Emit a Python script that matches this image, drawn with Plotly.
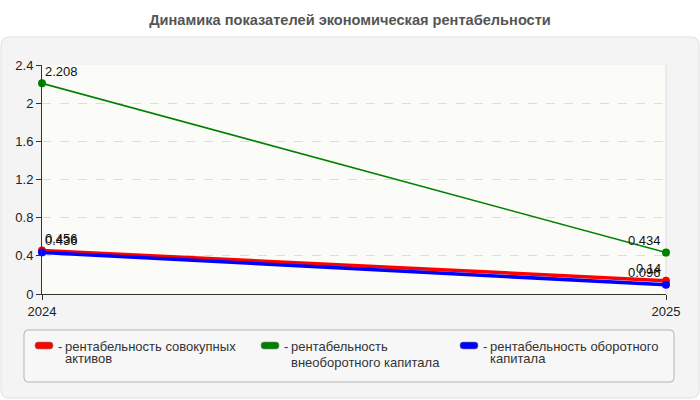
import plotly.graph_objects as go

years = ["2024", "2025"]
x_vals = [2024, 2025]
series_names = [
    "рентабельность совокупных активов",
    "рентабельность внеоборотного капитала",
    "рентабельность оборотного капитала",
]
red_vals = [0.456, 0.14]
green_vals = [2.208, 0.434]
blue_vals = [0.436, 0.096]
y_ticks = [0, 0.4, 0.8, 1.2, 1.6, 2, 2.4]
y_tick_labels = ["0", "0.4", "0.8", "1.2", "1.6", "2", "2.4"]

FONT = "Liberation Sans, Arial, sans-serif"

# pixel geometry of plot area
L, R, T, B = 42, 666, 65, 294
W, H = R - L, B - T

def px(x):
    return (x - L) / W

def py(y):
    return (B - y) / H

fig = go.Figure()
annotations = []

specs = [
    (red_vals, "#ff0000", 3.5),
    (green_vals, "#008000", 1.6),
    (blue_vals, "#0000ff", 3.5),
]
for (vals, col, lw), name in zip(specs, series_names):
    fig.add_trace(go.Scatter(
        x=x_vals, y=vals, mode="lines+markers", name=name,
        line=dict(color=col, width=lw),
        marker=dict(color=col, size=8),
        showlegend=False, cliponaxis=False,
    ))
    for i, (xv, yv) in enumerate(zip(x_vals, vals)):
        first = i == 0
        annotations.append(dict(
            x=xv, y=yv, xref="x", yref="y", text=str(yv), showarrow=False,
            xanchor="left" if first else "right", yanchor="middle",
            xshift=1 if first else -3, yshift=12,
            font=dict(family=FONT, size=13, color="#111")))

shapes = []

def rrect(x0, y0, x1, y1, r):
    X0, X1 = px(x0), px(x1)
    Y0, Y1 = py(y0), py(y1)
    rx, ry = r / W, r / H
    return (f"M {X0+rx},{Y0} L {X1-rx},{Y0} Q {X1},{Y0} {X1},{Y0-ry} "
            f"L {X1},{Y1+ry} Q {X1},{Y1} {X1-rx},{Y1} L {X0+rx},{Y1} "
            f"Q {X0},{Y1} {X0},{Y1+ry} L {X0},{Y0-ry} Q {X0},{Y0} {X0+rx},{Y0} Z")

# outer panel
shapes.append(dict(type="path", xref="paper", yref="paper", layer="below",
                   path=rrect(1, 37, 699, 398, 8),
                   fillcolor="#f4f4f4", line=dict(color="#e0e0e0", width=1)))
# plot area background
shapes.append(dict(type="rect", xref="paper", yref="paper", layer="below",
                   x0=0, x1=1, y0=0, y1=1,
                   fillcolor="#fbfbf7", line=dict(width=0)))
shapes.append(dict(type="line", xref="paper", yref="paper", layer="below",
                   x0=1, x1=1, y0=0, y1=1, line=dict(color="#dcdcdc", width=1)))
# legend box
shapes.append(dict(type="path", xref="paper", yref="paper", layer="below",
                   path=rrect(24, 330, 674, 382, 4),
                   fillcolor="#f7f7f7", line=dict(color="#b5b5b5", width=1)))

legend_cols = ["#ff0000", "#008000", "#0000ff"]
legend_x = [35, 261, 460]
legend_lines = [
    ["рентабельность совокупных", "активов"],
    ["рентабельность", "внеоборотного капитала"],
    ["рентабельность оборотного", "капитала"],
]
second_y = [358, 362, 358]
for i in range(3):
    x0 = legend_x[i]
    shapes.append(dict(type="path", xref="paper", yref="paper",
                       path=rrect(x0, 342, x0 + 18, 349, 3),
                       fillcolor=legend_cols[i], line=dict(color="#888", width=0.6)))
    annotations.append(dict(xref="paper", yref="paper", x=px(x0 + 21), y=py(346),
                            text="-", showarrow=False, xanchor="left", yanchor="middle",
                            font=dict(family=FONT, size=13, color="#333")))
    annotations.append(dict(xref="paper", yref="paper", x=px(x0 + 28), y=py(346),
                            text=legend_lines[i][0], showarrow=False, xanchor="left",
                            yanchor="middle",
                            font=dict(family=FONT, size=13, color="#333")))
    annotations.append(dict(xref="paper", yref="paper", x=px(x0 + 28), y=py(second_y[i]),
                            text=legend_lines[i][1], showarrow=False, xanchor="left",
                            yanchor="middle",
                            font=dict(family=FONT, size=13, color="#333")))

fig.update_layout(
    width=700, height=400,
    margin=dict(l=L, r=700 - R, t=T, b=400 - B),
    paper_bgcolor="#ffffff",
    plot_bgcolor="rgba(0,0,0,0)",
    title=dict(text="<b>Динамика показателей экономическая рентабельности</b>",
               x=0.5, xanchor="center", y=1 - 20 / 400, yanchor="middle",
               font=dict(family=FONT, size=14.6, color="#555")),
    shapes=shapes,
    annotations=annotations,
    showlegend=False,
    xaxis=dict(range=[2024, 2025], tickvals=x_vals, ticktext=years,
               showgrid=False, zeroline=False, showline=True, linecolor="#333",
               linewidth=1, ticks="outside", ticklen=5, tickcolor="#333",
               tickfont=dict(family=FONT, size=13, color="#222")),
    yaxis=dict(range=[0, 2.4], tickvals=y_ticks, ticktext=y_tick_labels,
               showgrid=True, gridcolor="#dddddd", griddash="dash", zeroline=False,
               showline=True, linecolor="#333", linewidth=1, ticks="outside",
               ticklen=5, tickcolor="#333",
               tickfont=dict(family=FONT, size=13, color="#222")),
)

fig.write_html("out.html")
